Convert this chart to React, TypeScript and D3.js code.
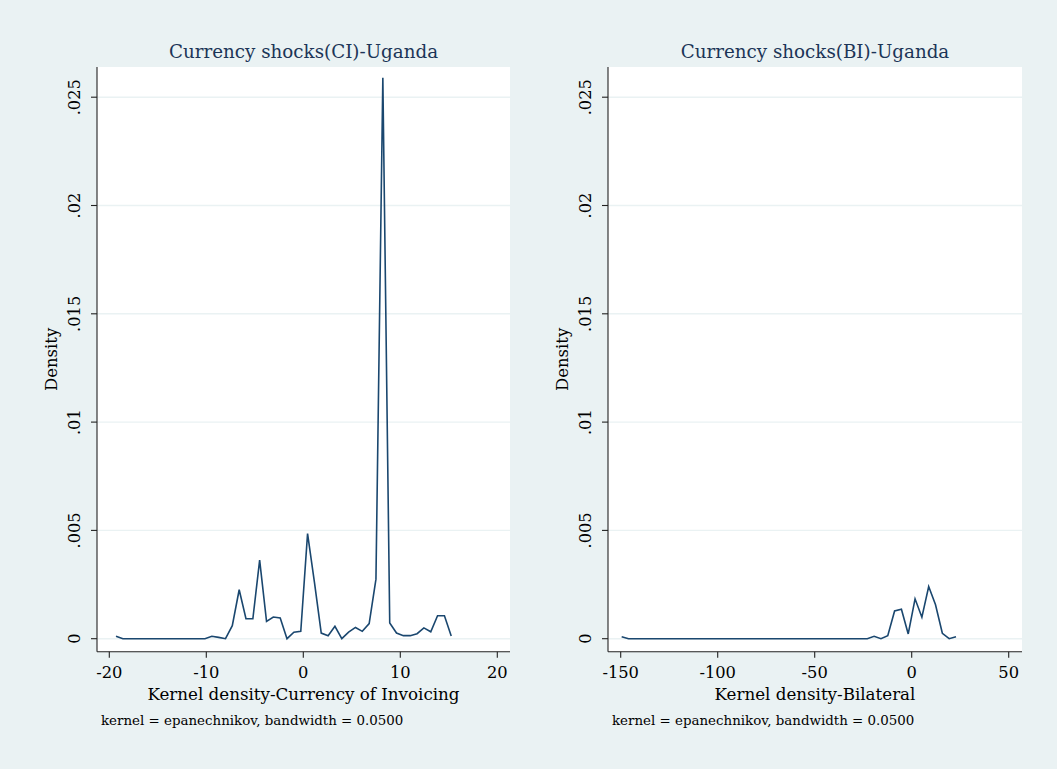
import React from "react";
import * as d3 from "d3";

// Kernel density estimates (50 evaluation points each)
const ciGrid = [
  -19.31, -18.6, -17.9, -17.19, -16.49, -15.78, -15.08, -14.37, -13.67, -12.96,
  -12.26, -11.55, -10.85, -10.14, -9.43, -8.73, -8.02, -7.32, -6.61, -5.91,
  -5.2, -4.5, -3.79, -3.09, -2.38, -1.68, -0.97, -0.26, 0.44, 1.15,
  1.85, 2.56, 3.26, 3.97, 4.67, 5.38, 6.08, 6.79, 7.49, 8.2,
  8.91, 9.61, 10.32, 11.02, 11.73, 12.43, 13.14, 13.84, 14.55, 15.25,
];
const ciDensity = [
  0.00011, 0, 0, 0, 0, 0, 0, 0, 0, 0,
  0, 0, 0, 0, 0.00011, 0.00006, 0, 0.0006, 0.00226, 0.00092,
  0.00092, 0.00363, 0.0008, 0.001, 0.00096, 0, 0.0003, 0.00034, 0.00485, 0.0026,
  0.00026, 0.00014, 0.00057, 0, 0.0003, 0.00052, 0.00034, 0.0007, 0.00275, 0.0259,
  0.00073, 0.00026, 0.00014, 0.00014, 0.00023, 0.0005, 0.00032, 0.00106, 0.00106, 0.00012,
];

const biGrid = [
  -149.5, -145.98, -142.47, -138.95, -135.43, -131.92, -128.4, -124.88, -121.36, -117.85,
  -114.33, -110.81, -107.3, -103.78, -100.26, -96.75, -93.23, -89.71, -86.19, -82.68,
  -79.16, -75.64, -72.13, -68.61, -65.09, -61.58, -58.06, -54.54, -51.02, -47.51,
  -43.99, -40.47, -36.96, -33.44, -29.92, -26.41, -22.89, -19.37, -15.85, -12.34,
  -8.82, -5.3, -1.79, 1.73, 5.25, 8.76, 12.28, 15.8, 19.32, 22.83,
];
const biDensity = [
  0.00009, 0, 0, 0, 0, 0, 0, 0, 0, 0,
  0, 0, 0, 0, 0, 0, 0, 0, 0, 0,
  0, 0, 0, 0, 0, 0, 0, 0, 0, 0,
  0, 0, 0, 0, 0, 0, 0, 0.00011, 0, 0.00014,
  0.00128, 0.00136, 0.00022, 0.00184, 0.00099, 0.00241, 0.00157, 0.00025, 0, 0.00009,
];

const yTicks = [0, 0.005, 0.01, 0.015, 0.02, 0.025];
const yTickLabels = ["0", ".005", ".01", ".015", ".02", ".025"];
const ciXTicks = [-20, -10, 0, 10, 20];
const biXTicks = [-150, -100, -50, 0, 50];

const titles = ["Currency shocks(CI)-Uganda", "Currency shocks(BI)-Uganda"];
const xTitles = ["Kernel density-Currency of Invoicing", "Kernel density-Bilateral"];
const yTitle = "Density";
const noteText = "kernel = epanechnikov, bandwidth = 0.0500";

const BG = "#eaf2f3";
const LINE = "#1a476f";
const TITLE = "#1c3557";
const FONT = "'DejaVu Serif', serif";

type PanelProps = {
  left: number;
  right: number;
  xDomain: [number, number];
  xRange: [number, number];
  xTicks: number[];
  xs: number[];
  ys: number[];
  title: string;
  xTitle: string;
};

const TOP = 67;
const BOTTOM = 651.7;
const yScale = d3.scaleLinear().domain([0, 0.025]).range([638.7, 97.2]);

function Panel({ left, right, xDomain, xRange, xTicks, xs, ys, title, xTitle }: PanelProps) {
  const x = d3.scaleLinear().domain(xDomain).range(xRange);
  const line = d3
    .line<number>()
    .x((_, i) => x(xs[i]))
    .y((d) => yScale(d));
  const cx = (left + right) / 2;
  const cy = (TOP + BOTTOM) / 2;
  return (
    <g>
      <rect x={left} y={TOP} width={right - left} height={BOTTOM - TOP} fill="#ffffff" />
      {yTicks.map((t) => (
        <line key={"g" + t} x1={left} x2={right} y1={yScale(t)} y2={yScale(t)} stroke={BG} strokeWidth={1.4} />
      ))}
      <path d={line(ys) || ""} fill="none" stroke={LINE} strokeWidth={1.6} strokeLinejoin="miter" />
      {/* y axis */}
      <line x1={left} x2={left} y1={TOP} y2={BOTTOM} stroke="#222" strokeWidth={1.1} />
      {yTicks.map((t, i) => (
        <g key={"y" + t}>
          <line x1={left - 6} x2={left} y1={yScale(t)} y2={yScale(t)} stroke="#222" strokeWidth={1.1} />
          <text
            transform={`translate(${left - 17},${yScale(t)}) rotate(-90)`}
            textAnchor="middle"
            fontFamily={FONT}
            fontSize={16.3}
            fill="#000"
          >
            {yTickLabels[i]}
          </text>
        </g>
      ))}
      <text
        transform={`translate(${left - 40},${cy}) rotate(-90)`}
        textAnchor="middle"
        fontFamily={FONT}
        fontSize={16.5}
        fill="#000"
      >
        {yTitle}
      </text>
      {/* x axis */}
      <line x1={left} x2={right} y1={BOTTOM} y2={BOTTOM} stroke="#222" strokeWidth={1.1} />
      {xTicks.map((t) => (
        <g key={"x" + t}>
          <line x1={x(t)} x2={x(t)} y1={BOTTOM} y2={BOTTOM + 6} stroke="#222" strokeWidth={1.1} />
          <text x={x(t)} y={678} textAnchor="middle" fontFamily={FONT} fontSize={16.3} fill="#000">
            {t}
          </text>
        </g>
      ))}
      <text x={cx} y={700} textAnchor="middle" fontFamily={FONT} fontSize={16.7} fill="#000">
        {xTitle}
      </text>
      <text x={left + 4} y={725} fontFamily={FONT} fontSize={13.4} fill="#000">
        {noteText}
      </text>
      <text x={cx} y={58} textAnchor="middle" fontFamily={FONT} fontSize={18.3} fill={TITLE}>
        {title}
      </text>
    </g>
  );
}

export default function App() {
  return (
    <svg
      width={1057}
      height={769}
      style={{ position: "absolute", left: 0, top: 0, display: "block" }}
    >
      <rect x={0} y={0} width={1057} height={769} fill={BG} />
      <Panel
        left={97}
        right={510}
        xDomain={[-20, 20]}
        xRange={[109.3, 497.3]}
        xTicks={ciXTicks}
        xs={ciGrid}
        ys={ciDensity}
        title={titles[0]}
        xTitle={xTitles[0]}
      />
      <Panel
        left={608}
        right={1022}
        xDomain={[-150, 50]}
        xRange={[620.7, 1008.7]}
        xTicks={biXTicks}
        xs={biGrid}
        ys={biDensity}
        title={titles[1]}
        xTitle={xTitles[1]}
      />
    </svg>
  );
}
